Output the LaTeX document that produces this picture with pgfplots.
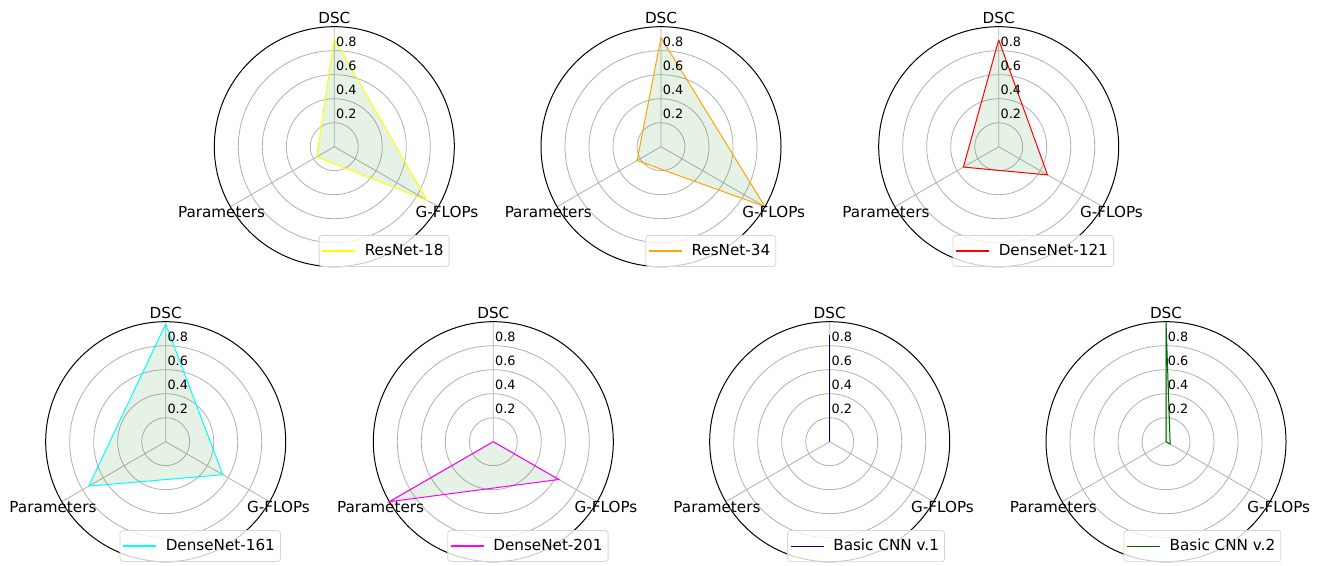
\documentclass[border=0pt]{standalone}
\usepackage{fontspec}
\setmainfont{DejaVu Sans}
\usepackage{pgfplots}
\usepgfplotslibrary{polar}
\pgfplotsset{compat=1.18}

\definecolor{gridgray}{RGB}{176,176,176}
\definecolor{legendgray}{RGB}{214,214,214}
\definecolor{mplgreen}{RGB}{0,128,0}
\definecolor{mplyellow}{RGB}{255,255,0}
\definecolor{mplorange}{RGB}{255,165,0}
\definecolor{mplred}{RGB}{255,0,0}
\definecolor{mplcyan}{RGB}{0,255,255}
\definecolor{mplmagenta}{RGB}{255,0,255}
\definecolor{mplnavy}{RGB}{0,0,128}
\definecolor{mpldarkgreen}{RGB}{0,100,0}

\newcommand\lblfont{\fontsize{7.6}{9}\selectfont}
\newcommand\tckfont{\fontsize{6.4}{7.7}\selectfont}
% legend entry with the gap after the line sample
\newcommand\entry[1]{\addlegendentry{\hspace{3pt}#1}}

\tikzset{rtick/.style={font=\tckfont, anchor=south west, inner xsep=0.75pt, inner ysep=0pt, yshift=1.7pt}}

% spoke names and radial tick values of one radar
\newcommand\radarlabels{%
  \node[font=\lblfont, inner sep=0pt] at (axis cs:90,1.075) {DSC};
  \node[font=\lblfont, inner sep=0pt] at (axis cs:210,1.085) {Parameters};
  \node[font=\lblfont, inner sep=0pt] at (axis cs:330,1.085) {G-FLOPs};
  \node[rtick] at (axis cs:90,0.2) {0.2};
  \node[rtick] at (axis cs:90,0.4) {0.4};
  \node[rtick] at (axis cs:90,0.6) {0.6};
  \node[rtick] at (axis cs:90,0.8) {0.8};
}

\pgfplotsset{
  radar/.style={
    scale only axis, width=120pt, height=120pt,
    anchor=center, clip=false,
    xmin=0, xmax=360, ymin=0, ymax=1,
    xtick={90,210,330}, xticklabels={},
    ytick={0.2,0.4,0.6,0.8}, yticklabels={},
    xmajorgrids, ymajorgrids,
    grid style={color=gridgray, line width=0.4pt},
    major tick length=0pt,
    x axis line style={black, line width=0.5pt},
    y axis line style={draw=none},
    legend style={at={(0.98,0.132)}, anchor=north east,
      draw=legendgray, line width=0.4pt, rounded corners=1.5pt,
      fill=white, fill opacity=0.8, text opacity=1,
      font=\lblfont, inner xsep=1.2pt, inner ysep=2.2pt,
      nodes={inner xsep=1.6pt, inner ysep=2pt}},
    legend image code/.code={%
      \draw[##1, fill=none, line width=0.55pt] (0pt,0pt) -- (16.5pt,0pt);},
  },
  series/.style={draw=#1, line width=0.5pt, fill=mplgreen, fill opacity=0.1},
}

\begin{document}
\begin{tikzpicture}
\path[use as bounding box] (0pt,0pt) rectangle (660.5pt,283pt);

% top row
\begin{polaraxis}[radar, at={(167.15pt,209.65pt)}]
  \addplot[series=mplyellow] coordinates {(90,0.90) (330,0.89) (210,0.17) (90,0.90)};
  \entry{ResNet-18}
  \radarlabels
\end{polaraxis}

\begin{polaraxis}[radar, at={(330.5pt,209.65pt)}]
  \addplot[series=mplorange] coordinates {(90,0.91) (330,1.00) (210,0.23) (90,0.91)};
  \entry{ResNet-34}
  \radarlabels
\end{polaraxis}

\begin{polaraxis}[radar, at={(499.35pt,209.65pt)}]
  \addplot[series=mplred] coordinates {(90,0.89) (330,0.47) (210,0.34) (90,0.89)};
  \entry{DenseNet-121}
  \radarlabels
\end{polaraxis}

% bottom row
\begin{polaraxis}[radar, at={(82.85pt,62.15pt)}]
  \addplot[series=mplcyan] coordinates {(90,0.98) (330,0.55) (210,0.74) (90,0.98)};
  \entry{DenseNet-161}
  \radarlabels
\end{polaraxis}

\begin{polaraxis}[radar, at={(246.65pt,62.15pt)}]
  \addplot[series=mplmagenta] coordinates {(90,0.00) (330,0.63) (210,1.00) (90,0.00)};
  \entry{DenseNet-201}
  \radarlabels
\end{polaraxis}

\begin{polaraxis}[radar, at={(414.85pt,62.15pt)}]
  \addplot[series=mplnavy] coordinates {(90,0.89) (330,0.00) (210,0.00) (90,0.89)};
  \entry{Basic CNN v.1}
  \radarlabels
\end{polaraxis}

\begin{polaraxis}[radar, at={(583pt,62.15pt)}]
  \addplot[series=mpldarkgreen] coordinates {(90,1.00) (330,0.04) (210,0.00) (90,1.00)};
  \entry{Basic CNN v.2}
  \radarlabels
\end{polaraxis}
\end{tikzpicture}
\end{document}
